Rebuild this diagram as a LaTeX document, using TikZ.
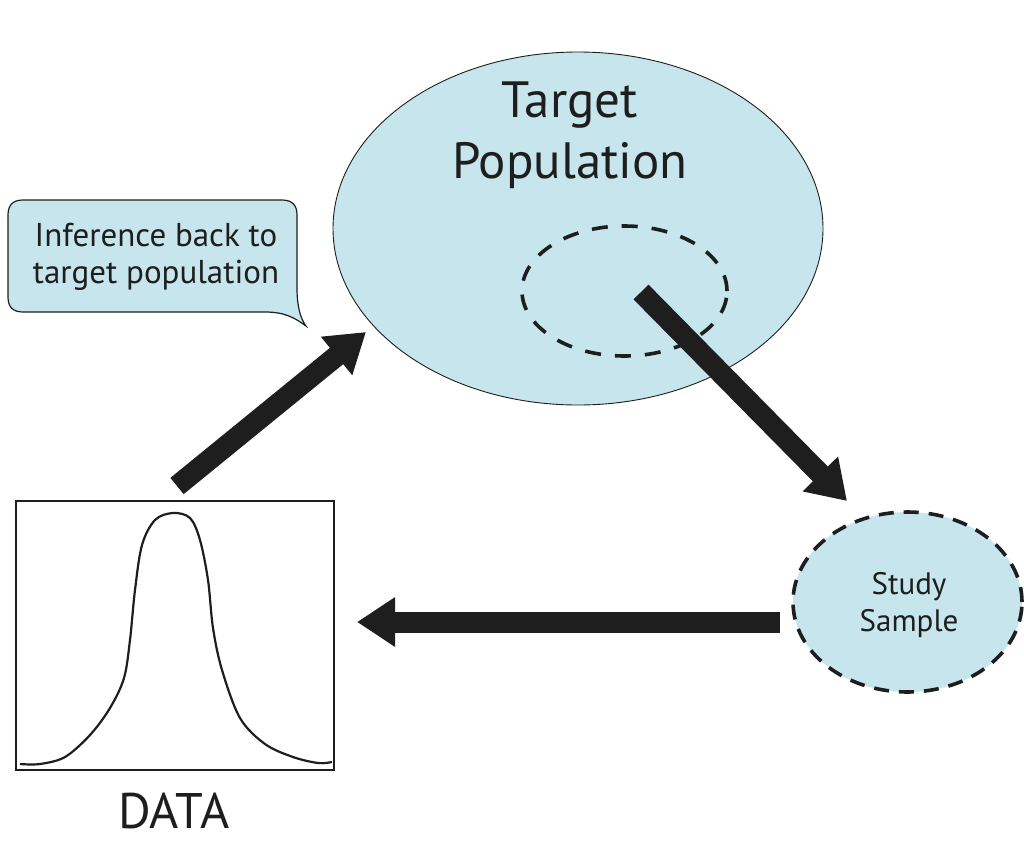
\documentclass[tikz,border=0pt]{standalone}
\usepackage{fontspec}
\setmainfont{PT Sans}
\usetikzlibrary{arrows.meta,shapes.geometric}
\definecolor{lblue}{HTML}{C6E5EC}
\definecolor{ink}{HTML}{1E1E1E}
\tikzset{
  bigarrow/.style={line width=21pt, draw=ink, -{Triangle[length=38pt,width=47pt]}},
  dashring/.style={draw=ink, line width=3.6pt, dash pattern=on 16pt off 14pt},
  lbl/.style={text=ink, align=center, inner sep=0pt}
}
\begin{document}
\begin{tikzpicture}[x=1pt,y=-1pt]
\useasboundingbox (0,0) rectangle (1024,841);
% target population
\node[ellipse, fill=lblue, draw=ink, line width=0.9pt, minimum width=490pt, minimum height=353pt, inner sep=0pt] (tp) at (578,228.5) {};
\node[lbl, font=\fontsize{51}{61}\selectfont, anchor=base] (tptext) at (570,178) {Target\\Population};
\node[ellipse, dashring, minimum width=205pt, minimum height=130pt, inner sep=0pt] (sub) at (624.5,291) {};
% study sample
\node[ellipse, fill=lblue, dashring, dash pattern=on 15pt off 10pt, minimum width=229pt, minimum height=180pt, inner sep=0pt] (ss) at (907.5,602) {};
\node[lbl, font=\fontsize{31}{37}\selectfont, anchor=base] (sstext) at (909,631) {Study\\Sample};
% data box
\node[draw=ink, line width=2pt, minimum width=318pt, minimum height=269pt, inner sep=0pt] (data) at (175,635.5) {};
\draw[ink, line width=2.2pt] plot[smooth, tension=0.55] coordinates {(20,764) (40,764) (65,757) (90,735) (110,708) (124,678) (130,640) (135,590) (142,545) (155,520) (173,513) (190,518) (200,540) (208,580) (213,628) (222,670) (240,718) (265,744) (293,757) (318,763) (332,762)};
\node[lbl, font=\fontsize{50}{60}\selectfont, anchor=base] (datalbl) at (174,828) {DATA};
% callout
\draw[ink, fill=lblue, line width=1.2pt]
  (23,200) -- (282,200) .. controls (292,200) and (297,205) .. (297,215)
  -- (297,288) .. controls (297,305) and (300,318) .. (306,326)
  .. controls (295,318) and (285,312) .. (265,312)
  -- (23,312) .. controls (13,312) and (8,307) .. (8,297)
  -- (8,215) .. controls (8,205) and (13,200) .. (23,200) -- cycle;
\node[lbl, font=\fontsize{33}{37}\selectfont, anchor=base] (inf) at (156,283) {Inference back to\\target population};
% arrows
\coordinate (a1s) at (177,486);
\coordinate (a1e) at (366,332);
\coordinate (a2s) at (641,292);
\coordinate (a2e) at (847,501);
\coordinate (a3s) at (780,622);
\coordinate (a3e) at (357,622);
\draw[bigarrow] (a1s) -- (a1e);
\draw[bigarrow] (a2s) -- (a2e);
\draw[bigarrow] (a3s) -- (a3e);
\end{tikzpicture}
\end{document}
